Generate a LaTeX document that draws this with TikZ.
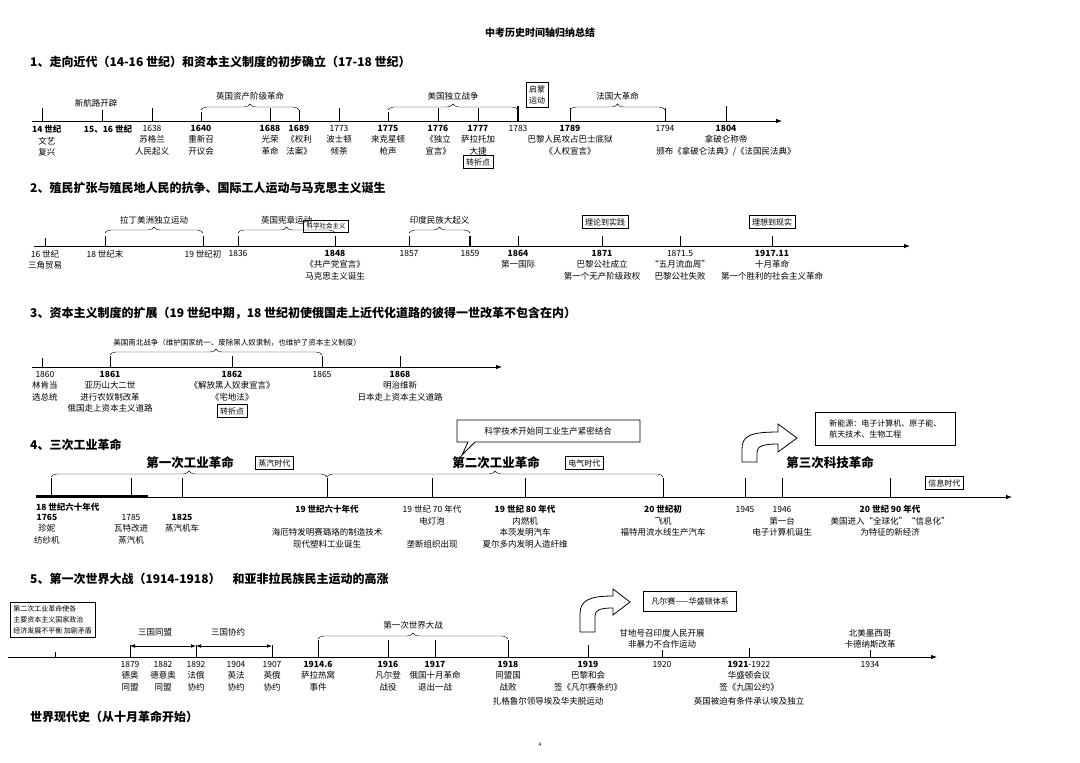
\documentclass[tikz,border=0pt]{standalone}
\usepackage{fontspec}
\setmainfont{Noto Sans CJK SC}
\usetikzlibrary{decorations.pathreplacing,arrows.meta}
\newcommand\ev[5]{\draw[tickl] (#2,#4) -- (#2,#3); \node[lab,anchor=north] (#1) at (#2,#3+4) {#5};}
\begin{document}
\begin{tikzpicture}[x=1pt,y=-1pt,
  lab/.style={font=\fontsize{8.5}{11.5}\selectfont,align=center,inner sep=0pt},
  lbl/.style={font=\fontsize{8.5}{11}\selectfont,inner sep=0pt},
  head/.style={font=\fontsize{12}{14}\selectfont\bfseries,anchor=west,inner sep=0pt},
  big/.style={font=\fontsize{12.5}{14}\selectfont\bfseries,inner sep=0pt},
  tbox/.style={draw,thick,font=\fontsize{8}{11}\selectfont,align=center,inner sep=3pt},
  axis/.style={thick,-{Latex[length=6pt]}},
  tickl/.style={thick},
  brc/.style={decorate,decoration={brace,amplitude=6pt}},
  blockarrow/.style={draw,thick,fill=white}]
\useasboundingbox (0,0) rectangle (1080,763);
\node[font=\fontsize{10}{12}\selectfont\bfseries] (title) at (540,33) {中考历史时间轴归纳总结};
% ---------- Section 1
\node[head] (h1) at (30,62) {1、走向近代（14-16 世纪）和资本主义制度的初步确立（17-18 世纪）};
\coordinate (a1s) at (32,121); \coordinate (a1e) at (782,121);
\draw[axis] (a1s) -- (a1e);
\node[lab,anchor=north west] (e14) at (32,125) {\textbf{14 世纪}\\文艺\\复兴};
\draw[tickl] (42,108) -- (42,121);
\draw[tickl] (102,110) -- (102,121);
\node[lab,anchor=north] (e15) at (108,125) {\textbf{15、16 世纪}};
\node[lbl] (l1a) at (96,103) {新航路开辟};
\ev{e1638}{152}{121}{108}{1638\\苏格兰\\人民起义}
\ev{e1640}{201}{121}{112}{\textbf{1640}\\重新召\\开议会}
\ev{e1688}{270}{121}{108}{\textbf{1688}\\光荣\\革命}
\ev{e1689}{299}{121}{110}{\textbf{1689}\\《权利\\法案》}
\ev{e1773}{339}{121}{108}{1773\\波士顿\\倾茶}
\ev{e1775}{388}{121}{112}{\textbf{1775}\\来克星顿\\枪声}
\ev{e1776}{438}{121}{108}{\textbf{1776}\\《独立\\宣言》}
\ev{e1777}{478}{121}{108}{\textbf{1777}\\萨拉托加\\大捷}
\draw[very thick] (518,106) -- (518,121); \node[lab,anchor=north] (e1783) at (518,125) {1783};
\ev{e1789}{570}{121}{108}{\textbf{1789}\\巴黎人民攻占巴士底狱\\《人权宣言》}
\ev{e1794}{665}{121}{108}{1794}
\ev{e1804}{726}{121}{106}{\textbf{1804}\\拿破仑称帝\\颁布《拿破仑法典》/《法国民法典》}
\draw[brc] (201,110) -- (299,110) node[lbl,midway,above=10pt] (b1a) {英国资产阶级革命};
\draw[brc] (388,110) -- (518,110) node[lbl,midway,above=10pt] (b1b) {美国独立战争};
\draw[brc] (570,110) -- (665,110) node[lbl,midway,above=10pt] (b1c) {法国大革命};
\node[tbox] (qm) at (537,95) {启蒙\\运动};
\node[tbox] (zz1) at (478,162) {转折点};
% ---------- Section 2
\node[head] (h2) at (30,188) {2、殖民扩张与殖民地人民的抗争、国际工人运动与马克思主义诞生};
\draw[axis] (34,246) -- (910,246);
\ev{e16}{45}{246}{238}{16 世纪\\三角贸易}
\ev{e18m}{105}{246}{236}{18 世纪末}
\ev{e19c}{203}{246}{236}{19 世纪初}
\ev{e1836}{238}{246}{236}{1836}
\ev{e1848}{335}{246}{236}{\textbf{1848}\\《共产党宣言》\\马克思主义诞生}
\ev{e1857}{409}{246}{236}{1857}
\draw[very thick] (470,236) -- (470,246); \node[lab,anchor=north] (e1859) at (470,250) {1859};
\ev{e1864}{518}{246}{236}{\textbf{1864}\\第一国际}
\ev{e1871}{602}{246}{236}{\textbf{1871}\\巴黎公社成立\\第一个无产阶级政权}
\ev{e18715}{680}{246}{236}{1871.5\\“五月流血周”\\巴黎公社失败}
\ev{e1917}{772}{246}{236}{\textbf{1917.11}\\十月革命\\第一个胜利的社会主义革命}
\draw[brc] (105,233) -- (203,233) node[lbl,midway,above=9pt] (b2a) {拉丁美洲独立运动};
\draw[brc] (238,233) -- (335,233) node[lbl,midway,above=9pt] (b2b) {英国宪章运动};
\draw[brc] (409,233) -- (470,233) node[lbl,midway,above=9pt] (b2c) {印度民族大起义};
\node[tbox,font=\fontsize{6.5}{8}\selectfont] (kx) at (326,226) {科学社会主义};
\node[tbox] (ll) at (605,222) {理论到实践};
\node[tbox] (lx) at (772,222) {理想到现实};
% ---------- Section 3
\node[head] (h3) at (30,313) {3、资本主义制度的扩展（19 世纪中期，18 世纪初使俄国走上近代化道路的彼得一世改革不包含在内）};
\draw[axis] (32,367) -- (502,367);
\draw[tickl] (42,358) -- (42,367); \node[lab,anchor=north west] (e1860) at (32,371) {1860\\林肯当\\选总统};
\ev{e1861}{110}{367}{356}{\textbf{1861}\\亚历山大二世\\进行农奴制改革\\俄国走上资本主义道路}
\ev{e1862}{232}{367}{356}{\textbf{1862}\\《解放黑人奴隶宣言》\\《宅地法》}
\ev{e1865}{322}{367}{356}{1865}
\ev{e1868}{400}{367}{356}{\textbf{1868}\\明治维新\\日本走上资本主义道路}
\draw[brc] (110,355) -- (322,355) node[lbl,pos=0.6,above=9pt,font=\fontsize{7.5}{9}\selectfont] (b3) {美国南北战争（维护国家统一、废除黑人奴隶制，也维护了资本主义制度）};
\node[tbox] (zz2) at (232,411) {转折点};
% ---------- Section 4
\node[head] (h4) at (30,445) {4、三次工业革命};
\node[big] (r1) at (190,463) {第一次工业革命};
\node[tbox,anchor=west] (zq) at (255,463) {蒸汽时代};
\node[big] (r2) at (496,463) {第二次工业革命};
\node[tbox,anchor=west] (dq) at (565,463) {电气时代};
\node[big] (r3) at (830,463) {第三次科技革命};
\node[tbox,anchor=west] (xx) at (925,483) {信息时代};
\draw[thick,fill=white] (457,420) -- (640,420) -- (640,442) -- (475,442) -- (462,455) -- (468,442) -- (457,442) -- cycle;
\node[lab] (kj) at (548,431) {科学技术开始同工业生产紧密结合};
\draw[blockarrow] (742,462) -- (742,449) .. controls (742,436) and (750,432) .. (778,432) -- (778,424) -- (797,438) -- (778,452) -- (778,444) .. controls (764,444) and (757,446) .. (757,452) -- (757,462) -- cycle;
\node[tbox,anchor=north west,align=left,minimum width=140pt,minimum height=33pt] (xny) at (815,412) {新能源：电子计算机、原子能、\\航天技术、生物工程};
\draw[axis] (36,497) -- (1012,497);
\draw[very thick] (36,496) -- (148,496);
\node[lab,anchor=west,font=\fontsize{8.5}{11}\selectfont\bfseries] (e1860s) at (36,507) {18 世纪六十年代};
\draw[tickl] (51,478) -- (51,497);
\node[lab,anchor=north west] (e1765) at (34,514) {\textbf{1765}\\珍妮\\纺纱机};
\draw[tickl] (131,478) -- (131,497);
\node[lab,anchor=north] (e1785) at (131,514) {1785\\瓦特改进\\蒸汽机};
\draw[tickl] (182,478) -- (182,497);
\node[lab,anchor=north] (e1825) at (182,514) {\textbf{1825}\\蒸汽机车};
\ev{e19c60}{327}{497}{478}{~\\\textbf{19 世纪六十年代}\\~\\海厄特发明赛璐珞的制造技术\\现代塑料工业诞生}
\ev{e19c70}{432}{497}{478}{~\\19 世纪 70 年代\\电灯泡\\~\\垄断组织出现}
\ev{e19c80}{525}{497}{478}{~\\\textbf{19 世纪 80 年代}\\内燃机\\本茨发明汽车\\夏尔多内发明人造纤维}
\ev{e20c}{663}{497}{478}{~\\\textbf{20 世纪初}\\飞机\\福特用流水线生产汽车}
\ev{e1945}{745}{497}{478}{~\\1945}
\ev{e1946}{782}{497}{478}{~\\1946\\第一台\\电子计算机诞生}
\ev{e20c90}{890}{497}{478}{~\\\textbf{20 世纪 90 年代}\\美国进入“全球化”“信息化”\\为特征的新经济}
\draw[brc] (51,477) -- (327,477);
\draw[brc] (327,477) -- (663,477);
% ---------- Section 5
\node[head] (h5) at (30,579) {5、第一次世界大战（1914-1918）\quad 和亚非拉民族民主运动的高涨};
\node[tbox,anchor=north west,align=left,font=\fontsize{7}{11}\selectfont] (bp) at (10,602) {第二次工业革命使各\\主要资本主义国家政治\\经济发展不平衡 加剧矛盾};
\draw[axis] (8,657) -- (937,657);
\draw[tickl] (55,652) -- (55,657);
\ev{e1879}{130}{657}{645}{1879\\德奥\\同盟}
\node[lab,anchor=north] (e1882) at (163,661) {1882\\德意奥\\同盟};
\ev{e1892}{196}{657}{645}{1892\\法俄\\协约}
\node[lab,anchor=north] (e1904) at (236,661) {1904\\英法\\协约};
\ev{e1907}{272}{657}{645}{1907\\英俄\\协约}
\draw[thick,{Latex[length=5pt]}-{Latex[length=5pt]}] (130,646) -- (196,646);
\draw[thick,{Latex[length=5pt]}-{Latex[length=5pt]}] (196,646) -- (272,646);
\node[lbl] (sg1) at (155,632) {三国同盟};
\node[lbl] (sg2) at (228,632) {三国协约};
\ev{e19146}{318}{657}{640}{\textbf{1914.6}\\萨拉热窝\\事件}
\ev{e1916}{388}{657}{640}{\textbf{1916}\\凡尔登\\战役}
\ev{e1917b}{435}{657}{640}{\textbf{1917}\\俄国十月革命\\退出一战}
\ev{e1918}{508}{657}{640}{\textbf{1918}\\同盟国\\战败}
\draw[brc] (318,639) -- (508,639) node[lbl,midway,above=10pt] (b5) {第一次世界大战};
\ev{e1919}{588}{657}{645}{\textbf{1919}\\巴黎和会\\签《凡尔赛条约》}
\node[lab,anchor=north] (zg) at (548,697) {扎格鲁尔领导埃及华夫脱运动};
\ev{e1920}{662}{657}{650}{1920}
\node[lab] (gd) at (662,639) {甘地号召印度人民开展\\非暴力不合作运动};
\ev{e1921}{749}{657}{648}{\textbf{1921}-1922\\华盛顿会议\\签《九国公约》}
\node[lab,anchor=north] (yg) at (749,697) {英国被迫有条件承认埃及独立};
\ev{e1934}{870}{657}{650}{1934}
\node[lab] (mx) at (870,639) {北美墨西哥\\卡德纳斯改革};
\draw[blockarrow] (580,632) -- (580,614) .. controls (580,600) and (590,596) .. (613,596) -- (613,589) -- (630,602) -- (613,615) -- (613,608) .. controls (600,608) and (595,610) .. (595,616) -- (595,632) -- cycle;
\node[tbox,anchor=west,minimum height=20pt,inner xsep=8pt] (fe) at (643,601) {凡尔赛——华盛顿体系};
\node[head] (h6) at (30,717) {世界现代史（从十月革命开始）};
\node[font=\fontsize{5}{6}\selectfont] (pg) at (540,745) {4};
\end{tikzpicture}
\end{document}
